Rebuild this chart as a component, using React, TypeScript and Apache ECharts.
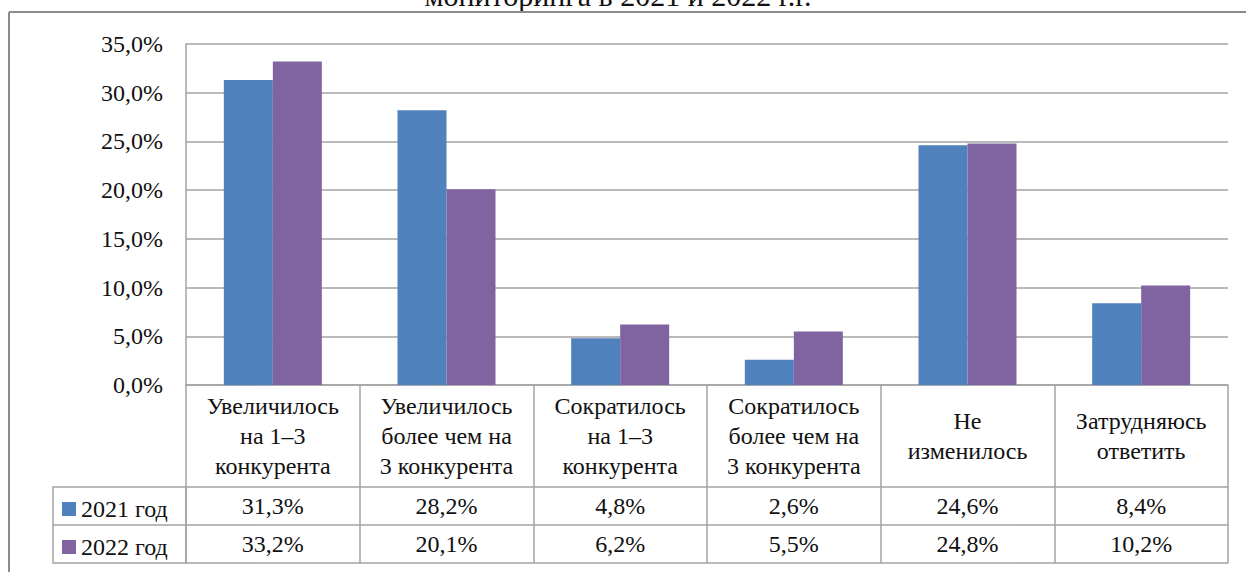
import React, { useEffect, useRef } from "react";
import * as echarts from "echarts";

const categories = [
  "Увеличилось\nна 1–3\nконкурента",
  "Увеличилось\nболее чем на\n3 конкурента",
  "Сократилось\nна 1–3\nконкурента",
  "Сократилось\nболее чем на\n3 конкурента",
  "Не\nизменилось",
  "Затрудняюсь\nответить",
];
const values2021 = [31.3, 28.2, 4.8, 2.6, 24.6, 8.4];
const values2022 = [33.2, 20.1, 6.2, 5.5, 24.8, 10.2];
const seriesNames = ["2021 год", "2022 год"];
const titleText = "мониторинга в 2021 и 2022 г.г.";

const FONT = "Liberation Serif";
const TXT = "#111111";
const LINE = "#a3a3a3";
const fmt = (v: number) => v.toFixed(1).replace(".", ",") + "%";

export default function App() {
  const ref = useRef<HTMLDivElement>(null);
  useEffect(() => {
    if (!ref.current) return;
    const chart = echarts.init(ref.current, null, { renderer: "svg" });
    chart.setOption({
      animation: false,
      color: ["#4F81BD", "#8064A2"],
      grid: { left: 186, right: 18, top: 44, bottom: 187 },
      legend: {
        orient: "vertical",
        left: 57,
        top: 491,
        itemWidth: 14,
        itemHeight: 14,
        itemGap: 12,
        icon: "rect",
        data: seriesNames,
        textStyle: { fontFamily: FONT, fontSize: 24, color: TXT, lineHeight: 26 },
      },
      yAxis: {
        type: "value",
        min: 0,
        max: 35,
        interval: 5,
        axisLine: { show: true, lineStyle: { color: LINE, width: 1.5 } },
        axisTick: { show: false },
        splitLine: { show: true, lineStyle: { color: LINE, width: 1.5 } },
        axisLabel: { fontFamily: FONT, fontSize: 24, color: TXT, margin: 23, formatter: (v: number) => fmt(v) },
      },
      xAxis: [
        {
          type: "category",
          data: categories,
          position: "bottom",
          axisLine: { show: true, lineStyle: { color: LINE, width: 1.5 } },
          axisTick: { show: true, length: 178, lineStyle: { color: LINE, width: 1.5 } },
          axisLabel: {
            fontFamily: FONT,
            fontSize: 24,
            color: TXT,
            interval: 0,
            margin: 51,
            verticalAlign: "middle",
            lineHeight: 30,
          },
        },
        {
          type: "category",
          data: categories,
          position: "bottom",
          offset: 102,
          axisLine: { show: true, lineStyle: { color: LINE, width: 1.5 } },
          axisTick: { show: false },
          axisLabel: {
            fontFamily: FONT,
            fontSize: 24,
            color: TXT,
            interval: 0,
            margin: 19,
            verticalAlign: "middle",
            formatter: (_v: string, i: number) => fmt(values2021[i]),
          },
        },
        {
          type: "category",
          data: categories,
          position: "bottom",
          offset: 140,
          axisLine: { show: true, lineStyle: { color: LINE, width: 1.5 } },
          axisTick: { show: false },
          axisLabel: {
            fontFamily: FONT,
            fontSize: 24,
            color: TXT,
            interval: 0,
            margin: 19,
            verticalAlign: "middle",
            formatter: (_v: string, i: number) => fmt(values2022[i]),
          },
        },
        {
          type: "category",
          data: categories,
          position: "bottom",
          offset: 178,
          axisLine: { show: true, lineStyle: { color: LINE, width: 1.5 } },
          axisTick: { show: false },
          axisLabel: { show: false },
        },
      ],
      series: [
        { name: seriesNames[0], type: "bar", data: values2021, barWidth: 49, barGap: "0%", itemStyle: { color: "#4F81BD" } },
        { name: seriesNames[1], type: "bar", data: values2022, barWidth: 49, barGap: "0%", itemStyle: { color: "#8064A2" } },
      ],
      graphic: [
        {
          type: "text",
          x: 618,
          y: -20,
          style: { text: titleText, fontFamily: FONT, fontSize: 30, fill: TXT, textAlign: "center" },
        },
        { type: "line", shape: { x1: 9, y1: 12, x2: 1246, y2: 12 }, style: { stroke: "#8c8c8c", lineWidth: 2 } },
        { type: "line", shape: { x1: 9, y1: 12, x2: 9, y2: 572 }, style: { stroke: "#8c8c8c", lineWidth: 2 } },
        { type: "rect", shape: { x: 53, y: 487, width: 133, height: 76 }, style: { fill: "none", stroke: LINE, lineWidth: 1.5 } },
        { type: "line", shape: { x1: 53, y1: 525, x2: 186, y2: 525 }, style: { stroke: LINE, lineWidth: 1.5 } },
      ],
    });
    return () => chart.dispose();
  }, []);
  return <div ref={ref} style={{ position: "absolute", left: 0, top: 0, width: 1246, height: 572 }} />;
}
